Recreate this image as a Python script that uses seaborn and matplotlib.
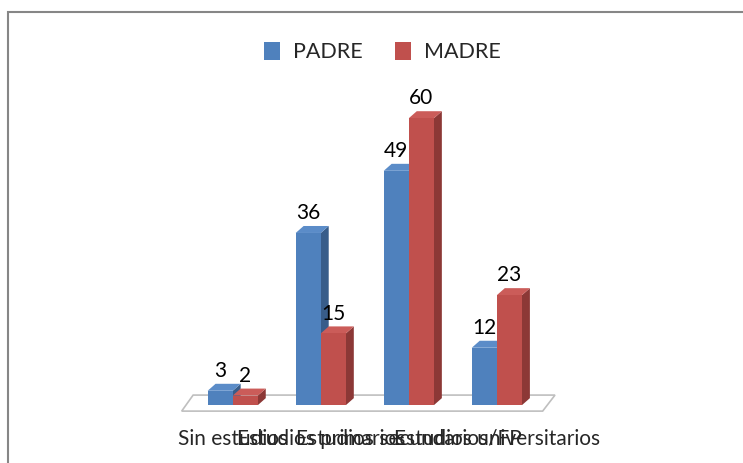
import pandas as pd
import seaborn as sns
import matplotlib.pyplot as plt
from matplotlib.patches import Polygon, Rectangle, Patch

# Datos
categorias = ["Sin estudios", "Estudios primarios", "Estudios secundarios/FP", "Estudios universitarios"]
padre = [3, 36, 49, 12]
madre = [2, 15, 60, 23]
series = ["PADRE", "MADRE"]

frente = {"PADRE": "#4F81BD", "MADRE": "#C0504D"}
lado = {"PADRE": "#385D8A", "MADRE": "#8C3836"}
techo = {"PADRE": "#5B8CC8", "MADRE": "#CB5C59"}

df = pd.DataFrame({
    "Nivel": categorias * 2,
    "Valor": padre + madre,
    "Progenitor": ["PADRE"] * len(padre) + ["MADRE"] * len(madre),
})

sns.set_style("white")
plt.rcParams['font.family'] = ['Lato', 'DejaVu Sans']

fig = plt.figure(figsize=(7.43, 4.63), dpi=100)
ax = fig.add_axes([0.254, 0.125, 0.474, 0.723])

sns.barplot(data=df, x="Nivel", y="Valor", hue="Progenitor", order=categorias,
            hue_order=series, palette=frente, width=0.57, saturation=1,
            edgecolor="none", legend=False, ax=ax)

ax.set_ylim(0, 70)
ax.set_xlim(-0.5, 3.5)

# profundidad de las barras (efecto 3D)
dx, dy = 0.09, 1.46
for i, (serie, cont) in enumerate(zip(series, ax.containers)):
    z = 2 + i
    for bar in cont:
        x0, w, h = bar.get_x(), bar.get_width(), bar.get_height()
        bar.set_zorder(z + 0.1)
        ax.add_patch(Polygon([(x0 + w, 0), (x0 + w + dx, dy), (x0 + w + dx, h + dy), (x0 + w, h)],
                             closed=True, facecolor=lado[serie], edgecolor="none", zorder=z))
        ax.add_patch(Polygon([(x0, h), (x0 + dx, h + dy), (x0 + w + dx, h + dy), (x0 + w, h)],
                             closed=True, facecolor=techo[serie], edgecolor="none", zorder=z))
    ax.bar_label(cont, padding=7, fontsize=15, color="black")

# suelo
ax.add_patch(Polygon([(-0.58, -1.25), (-0.45, 2.1), (3.66, 2.1), (3.52, -1.25)], closed=True,
                     facecolor="white", edgecolor="#BFBFBF", lw=1.2, zorder=1, clip_on=False))

sns.despine(ax=ax, left=True, bottom=True)
ax.set_yticks([])
ax.set_xlabel("")
ax.set_ylabel("")
ax.tick_params(axis="x", length=0, pad=17, labelsize=15)

handles = [Patch(facecolor=frente[s], edgecolor="none") for s in series]
fig.legend(handles, series, loc="center", bbox_to_anchor=(0.515, 0.888), ncol=2,
           frameon=False, fontsize=15.5, handlelength=0.75, handleheight=0.9,
           columnspacing=1.5, handletextpad=0.6)

fig.patches.append(Rectangle((8 / 743, -0.1), 1.1, 1 - 12 / 463 + 0.1, transform=fig.transFigure,
                             fill=False, edgecolor="#868686", lw=1.5))

fig.savefig("out.png", dpi=100)
